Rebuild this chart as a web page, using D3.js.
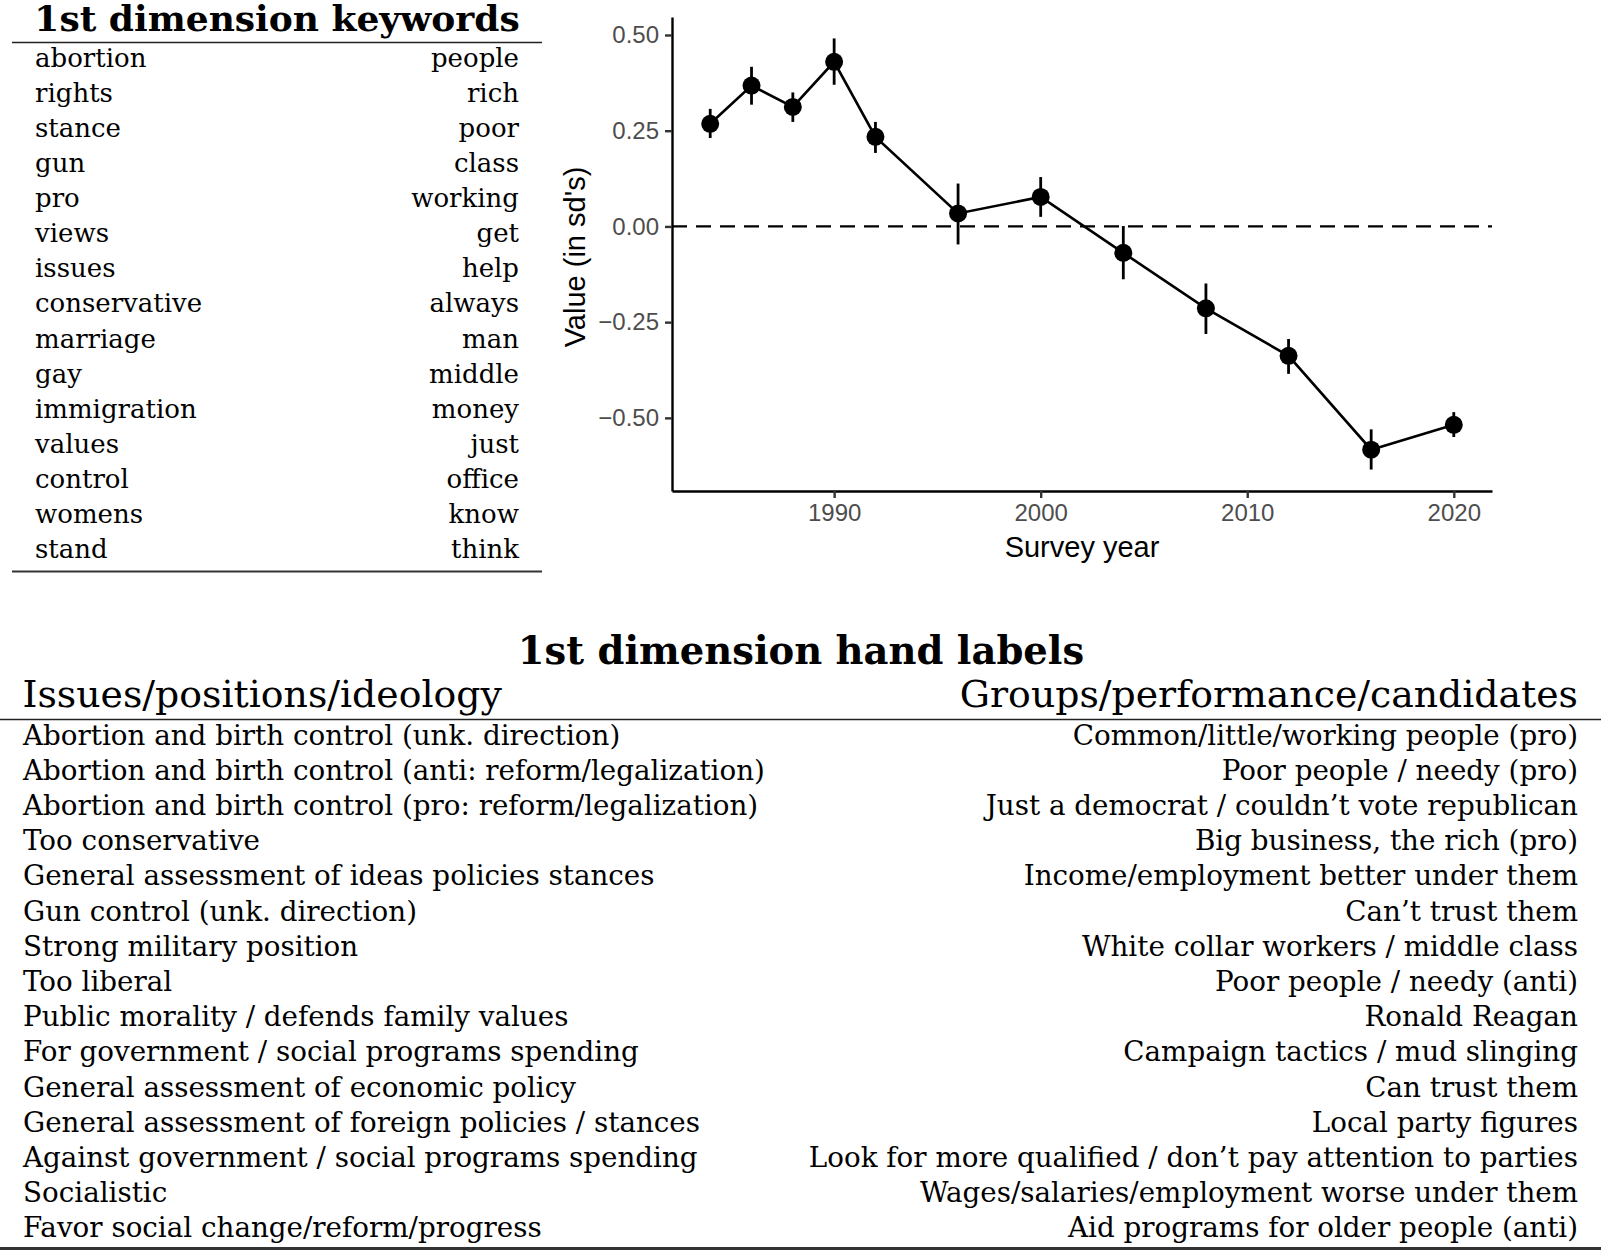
<!DOCTYPE html>
<html>
<head>
<meta charset="utf-8">
<script src="https://cdn.jsdelivr.net/npm/d3@7"></script>
<style>
  body { margin: 0; background: #fff; }
  .serif { font-family: "DejaVu Serif", "Liberation Serif", serif; }
  .sans { font-family: "Liberation Sans", Arial, Helvetica, sans-serif; }
</style>
</head>
<body>
<svg id="fig" width="1601" height="1250"></svg>
<script>
'use strict';

// survey series (value in sd's, with interval ends)
var years  = [1984, 1986, 1988, 1990, 1992, 1996, 2000, 2004, 2008, 2012, 2016, 2020];
var values = [0.268, 0.368, 0.312, 0.430, 0.234, 0.034, 0.077, -0.069, -0.214, -0.338, -0.583, -0.518];
var lower  = [0.231, 0.318, 0.273, 0.370, 0.192, -0.047, 0.025, -0.138, -0.281, -0.385, -0.635, -0.550];
var upper  = [0.307, 0.417, 0.350, 0.491, 0.273, 0.112, 0.129, 0.001, -0.149, -0.294, -0.530, -0.485];

var xTicks = [1990, 2000, 2010, 2020];
var yTicks = [0.50, 0.25, 0.00, -0.25, -0.50];

var kwLeft  = ['abortion', 'rights', 'stance', 'gun', 'pro', 'views', 'issues', 'conservative',
               'marriage', 'gay', 'immigration', 'values', 'control', 'womens', 'stand'];
var kwRight = ['people', 'rich', 'poor', 'class', 'working', 'get', 'help', 'always',
               'man', 'middle', 'money', 'just', 'office', 'know', 'think'];

var handHeaders = ['Issues/positions/ideology', 'Groups/performance/candidates'];
var handLeft = [
    'Abortion and birth control (unk. direction)',
    'Abortion and birth control (anti: reform/legalization)',
    'Abortion and birth control (pro: reform/legalization)',
    'Too conservative',
    'General assessment of ideas policies stances',
    'Gun control (unk. direction)',
    'Strong military position',
    'Too liberal',
    'Public morality / defends family values',
    'For government / social programs spending',
    'General assessment of economic policy',
    'General assessment of foreign policies / stances',
    'Against government / social programs spending',
    'Socialistic',
    'Favor social change/reform/progress'
];
var handRight = [
    'Common/little/working people (pro)',
    'Poor people / needy (pro)',
    'Just a democrat / couldn\u2019t vote republican',
    'Big business, the rich (pro)',
    'Income/employment better under them',
    'Can\u2019t trust them',
    'White collar workers / middle class',
    'Poor people / needy (anti)',
    'Ronald Reagan',
    'Campaign tactics / mud slinging',
    'Can trust them',
    'Local party figures',
    'Look for more qualified / don\u2019t pay attention to parties',
    'Wages/salaries/employment worse under them',
    'Aid programs for older people (anti)'
];

var svg = d3.select('#fig');

function drawKeywords() {
    var g = svg.append('g').attr('class', 'serif');
    var rowY = function(i) { return 66.7 + i * 35.1; };

    g.append('text')
        .attr('x', 277).attr('y', 31)
        .attr('text-anchor', 'middle')
        .style('font-weight', 'bold')
        .style('font-size', '36px')
        .text('1st dimension keywords');

    g.append('line')
        .attr('x1', 12).attr('x2', 542).attr('y1', 42.5).attr('y2', 42.5)
        .attr('stroke', '#222').attr('stroke-width', 1.6);

    g.selectAll('.kw-left')
        .data(kwLeft)
        .enter().append('text')
        .attr('class', 'kw-left')
        .attr('x', 35)
        .attr('y', function(d, i) { return rowY(i); })
        .style('font-size', '26px')
        .text(function(d) { return d; });

    g.selectAll('.kw-right')
        .data(kwRight)
        .enter().append('text')
        .attr('class', 'kw-right')
        .attr('x', 519)
        .attr('y', function(d, i) { return rowY(i); })
        .attr('text-anchor', 'end')
        .style('font-size', '26px')
        .text(function(d) { return d; });

    g.append('line')
        .attr('x1', 12).attr('x2', 542).attr('y1', 571.5).attr('y2', 571.5)
        .attr('stroke', '#333').attr('stroke-width', 2.2);
}

function drawChart() {
    var margin = {top: 17, right: 109, bottom: 759, left: 672},
        width = 1601 - margin.left - margin.right,
        height = 1250 - margin.top - margin.bottom;

    var x = d3.scaleLinear()
        .domain([1982.15, 2021.85])
        .range([0, width]);

    var y = d3.scaleLinear()
        .domain([-0.691, 0.547])
        .range([height, 0]);

    var chart = svg.append('g')
        .attr('class', 'sans')
        .attr('transform', 'translate(' + margin.left + ',' + margin.top + ')');

    // zero reference
    chart.append('line')
        .attr('x1', 0).attr('x2', width)
        .attr('y1', y(0)).attr('y2', y(0))
        .attr('stroke', '#000')
        .attr('stroke-width', 2.2)
        .attr('stroke-dasharray', '15,9');

    // X Axis
    var xAxis = chart.append('g')
        .attr('transform', 'translate(0,' + height + ')')
        .call(d3.axisBottom(x).tickValues(xTicks).tickFormat(d3.format('d'))
            .tickSize(7).tickSizeOuter(0).tickPadding(6));

    // Y Axis
    var yAxis = chart.append('g')
        .call(d3.axisLeft(y).tickValues(yTicks)
            .tickFormat(function(d) { return d3.format('.2f')(d).replace('-', '\u2212'); })
            .tickSize(7).tickSizeOuter(0).tickPadding(6));

    [xAxis, yAxis].forEach(function(ax) {
        ax.select('.domain').attr('stroke', '#000').attr('stroke-width', 2.4);
        ax.selectAll('.tick line').attr('stroke', '#333').attr('stroke-width', 2.4);
        ax.selectAll('.tick text')
            .attr('fill', '#4d4d4d')
            .style('font-family', '"Liberation Sans", Arial, sans-serif')
            .style('font-size', '24px');
    });

    chart.append('text')
        .attr('x', width / 2)
        .attr('y', height + 66)
        .attr('text-anchor', 'middle')
        .style('font-size', '29px')
        .text('Survey year');

    chart.append('text')
        .attr('transform', 'translate(-87,' + (height / 2 + 3) + ') rotate(-90)')
        .attr('text-anchor', 'middle')
        .style('font-size', '29px')
        .text('Value (in sd\'s)');

    var pts = years.map(function(yr, i) {
        return {year: yr, value: values[i], lo: lower[i], hi: upper[i]};
    });

    // Line
    chart.append('path')
        .datum(pts)
        .attr('fill', 'none')
        .attr('stroke', '#000')
        .attr('stroke-width', 2.6)
        .attr('d', d3.line()
            .x(function(d) { return x(d.year); })
            .y(function(d) { return y(d.value); }));

    // Error bars
    chart.selectAll('.err')
        .data(pts)
        .enter().append('line')
        .attr('class', 'err')
        .attr('x1', function(d) { return x(d.year); })
        .attr('x2', function(d) { return x(d.year); })
        .attr('y1', function(d) { return y(d.lo); })
        .attr('y2', function(d) { return y(d.hi); })
        .attr('stroke', '#000')
        .attr('stroke-width', 2.8);

    // Points
    chart.selectAll('.pt')
        .data(pts)
        .enter().append('circle')
        .attr('class', 'pt')
        .attr('cx', function(d) { return x(d.year); })
        .attr('cy', function(d) { return y(d.value); })
        .attr('r', 9)
        .attr('fill', '#000');
}

function drawHandLabels() {
    var g = svg.append('g').attr('class', 'serif');
    var rowY = function(i) { return 744.5 + i * 35.2; };

    g.append('text')
        .attr('x', 801).attr('y', 664)
        .attr('text-anchor', 'middle')
        .style('font-weight', 'bold')
        .style('font-size', '38.5px')
        .text('1st dimension hand labels');

    g.append('text')
        .attr('x', 22.5).attr('y', 707)
        .style('font-size', '37.8px')
        .text(handHeaders[0]);

    g.append('text')
        .attr('x', 1578).attr('y', 707)
        .attr('text-anchor', 'end')
        .style('font-size', '37.8px')
        .text(handHeaders[1]);

    g.append('line')
        .attr('x1', 0).attr('x2', 1601).attr('y1', 719.5).attr('y2', 719.5)
        .attr('stroke', '#222').attr('stroke-width', 1.5);

    g.selectAll('.hl-left')
        .data(handLeft)
        .enter().append('text')
        .attr('class', 'hl-left')
        .attr('x', 23)
        .attr('y', function(d, i) { return rowY(i); })
        .style('font-size', '27.75px')
        .text(function(d) { return d; });

    g.selectAll('.hl-right')
        .data(handRight)
        .enter().append('text')
        .attr('class', 'hl-right')
        .attr('x', 1578)
        .attr('y', function(d, i) { return rowY(i); })
        .attr('text-anchor', 'end')
        .style('font-size', '27.75px')
        .text(function(d) { return d; });

    g.append('line')
        .attr('x1', 0).attr('x2', 1601).attr('y1', 1248.5).attr('y2', 1248.5)
        .attr('stroke', '#333').attr('stroke-width', 3);
}

drawKeywords();
drawChart();
drawHandLabels();
</script>
</body>
</html>
